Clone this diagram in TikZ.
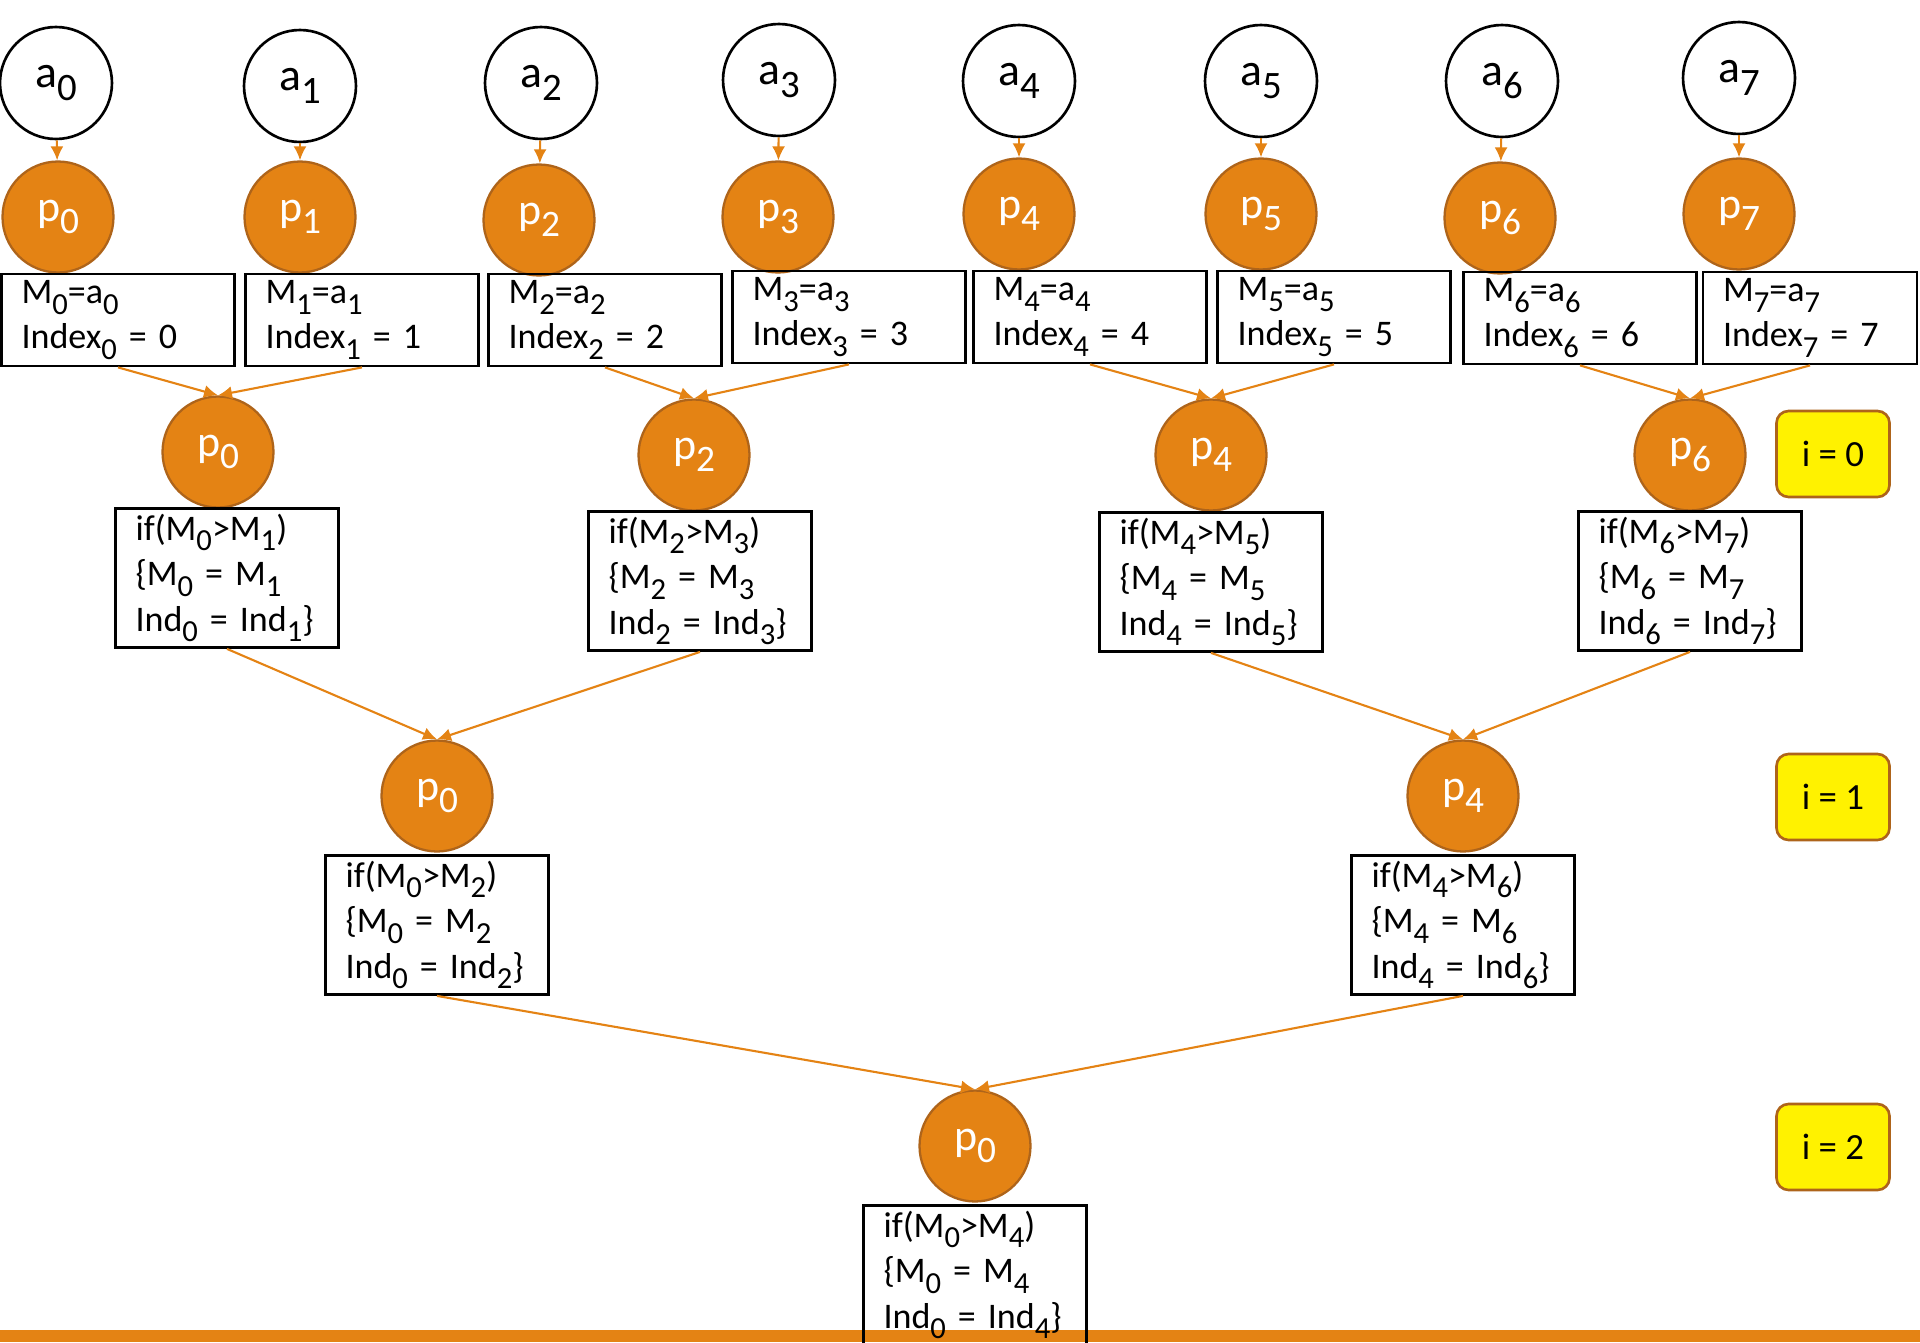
\documentclass[tikz,border=0pt]{standalone}
\usepackage{fontspec}
\setmainfont{Carlito}
\usepackage{xcolor}
\usepackage{graphicx}
\usepackage{tikz}
\usetikzlibrary{arrows.meta}

\definecolor{procorange}{RGB}{228,131,20}
\definecolor{procrim}{RGB}{174,100,26}
\newcommand{\ix}[1]{\raisebox{-0.6ex}{\scalebox{0.85}{#1}}}

\begin{document}
\begin{tikzpicture}[x=0.02cm, y=-0.02cm]
	\tikzstyle{elem} = [circle, draw, line width=1.5pt, minimum size=2.24cm, inner sep=0pt, font=\fontsize{26}{30}\selectfont]
	\tikzstyle{proc} = [circle, draw=procrim, fill=procorange, line width=1.3pt, minimum size=2.22cm, inner sep=0pt, text=white, font=\fontsize{25}{30}\selectfont]
	\tikzstyle{init} = [draw, line width=1.6pt, align=left, text width=3.86cm, inner xsep=0.4cm, inner ysep=0pt, minimum height=1.84cm, font=\fontsize{20.5}{25.5}\selectfont]
	\tikzstyle{cmp} = [draw, line width=1.6pt, align=left, text width=3.66cm, inner xsep=0.4cm, inner ysep=0pt, minimum height=2.78cm, font=\fontsize{20.5}{26}\selectfont]
	\tikzstyle{iter} = [draw=procrim, fill=yellow, line width=1.5pt, rounded corners=0.24cm, minimum width=2.26cm, minimum height=1.72cm, font=\fontsize{21}{25}\selectfont]
	\tikzset{edge/.style = {draw=procorange, line width=1.2pt, -{Latex[length=0.28cm, width=0.26cm]}}}

	\useasboundingbox (0,0) rectangle (1920,1342);
	\clip (0,0) rectangle (1920,1342);

	% inputs
	\node[elem](a0) at (56,83) {a\ix{0}};
	\node[elem](a1) at (300,86) {a\ix{1}};
	\node[elem](a2) at (541,83) {a\ix{2}};
	\node[elem](a3) at (779,80) {a\ix{3}};
	\node[elem](a4) at (1019,81) {a\ix{4}};
	\node[elem](a5) at (1261,81) {a\ix{5}};
	\node[elem](a6) at (1502,81) {a\ix{6}};
	\node[elem](a7) at (1739,78) {a\ix{7}};

	\node[proc](p0) at (58,217) {p\ix{0}};
	\node[proc](p1) at (300,217) {p\ix{1}};
	\node[proc](p2) at (539,220) {p\ix{2}};
	\node[proc](p3) at (778,217) {p\ix{3}};
	\node[proc](p4) at (1019,214) {p\ix{4}};
	\node[proc](p5) at (1261,214) {p\ix{5}};
	\node[proc](p6) at (1500,218) {p\ix{6}};
	\node[proc](p7) at (1739,214) {p\ix{7}};
	\draw[edge](a0) to (p0);
	\draw[edge](a1) to (p1);
	\draw[edge](a2) to (p2);
	\draw[edge](a3) to (p3);
	\draw[edge](a4) to (p4);
	\draw[edge](a5) to (p5);
	\draw[edge](a6) to (p6);
	\draw[edge](a7) to (p7);

	\node[init](m0) at (118,320) {M\ix{0}=a\ix{0}\\Index\ix{0} = 0};
	\node[init](m1) at (362,320) {M\ix{1}=a\ix{1}\\Index\ix{1} = 1};
	\node[init](m2) at (605,320) {M\ix{2}=a\ix{2}\\Index\ix{2} = 2};
	\node[init](m3) at (849,317) {M\ix{3}=a\ix{3}\\Index\ix{3} = 3};
	\node[init](m4) at (1090,317) {M\ix{4}=a\ix{4}\\Index\ix{4} = 4};
	\node[init](m5) at (1334,317) {M\ix{5}=a\ix{5}\\Index\ix{5} = 5};
	\node[init](m6) at (1580,318) {M\ix{6}=a\ix{6}\\Index\ix{6} = 6};
	\node[init, text width=3.48cm](m7) at (1810,318) {M\ix{7}=a\ix{7}\\Index\ix{7} = 7};

	% i = 0
	\node[proc](q0) at (218,452) {p\ix{0}};
	\node[proc](q2) at (694,455) {p\ix{2}};
	\node[proc](q4) at (1211,455) {p\ix{4}};
	\node[proc](q6) at (1690,455) {p\ix{6}};
	\draw[edge](m0.south) to (q0.north);
	\draw[edge](m1.south) to (q0.north);
	\draw[edge](m2.south) to (q2.north);
	\draw[edge](m3.south) to (q2.north);
	\draw[edge](m4.south) to (q4.north);
	\draw[edge](m5.south) to (q4.north);
	\draw[edge](m6.south) to (q6.north);
	\draw[edge](m7.south) to (q6.north);

	\node[cmp](c0) at (227,578) {if(M\ix{0}>M\ix{1})\\\{M\ix{0} = M\ix{1}\\Ind\ix{0} = Ind\ix{1}\}};
	\node[cmp](c2) at (700,581) {if(M\ix{2}>M\ix{3})\\\{M\ix{2} = M\ix{3}\\Ind\ix{2} = Ind\ix{3}\}};
	\node[cmp](c4) at (1211,582) {if(M\ix{4}>M\ix{5})\\\{M\ix{4} = M\ix{5}\\Ind\ix{4} = Ind\ix{5}\}};
	\node[cmp](c6) at (1690,581) {if(M\ix{6}>M\ix{7})\\\{M\ix{6} = M\ix{7}\\Ind\ix{6} = Ind\ix{7}\}};

	% i = 1
	\node[proc](r0) at (437,796) {p\ix{0}};
	\node[proc](r4) at (1463,796) {p\ix{4}};
	\draw[edge](c0.south) to (r0.north);
	\draw[edge](c2.south) to (r0.north);
	\draw[edge](c4.south) to (r4.north);
	\draw[edge](c6.south) to (r4.north);

	\node[cmp](d0) at (437,925) {if(M\ix{0}>M\ix{2})\\\{M\ix{0} = M\ix{2}\\Ind\ix{0} = Ind\ix{2}\}};
	\node[cmp](d4) at (1463,925) {if(M\ix{4}>M\ix{6})\\\{M\ix{4} = M\ix{6}\\Ind\ix{4} = Ind\ix{6}\}};

	% i = 2
	\node[proc](s0) at (975,1146) {p\ix{0}};
	\draw[edge](d0.south) to (s0.north);
	\draw[edge](d4.south) to (s0.north);

	\fill[procorange] (0,1330) rectangle (1920,1342);
	\node[cmp](e0) at (975,1275) {if(M\ix{0}>M\ix{4})\\\{M\ix{0} = M\ix{4}\\Ind\ix{0} = Ind\ix{4}\}};

	\node[iter](i0) at (1833,454) {i = 0};
	\node[iter](i1) at (1833,797) {i = 1};
	\node[iter](i2) at (1833,1147) {i = 2};
\end{tikzpicture}
\end{document}
